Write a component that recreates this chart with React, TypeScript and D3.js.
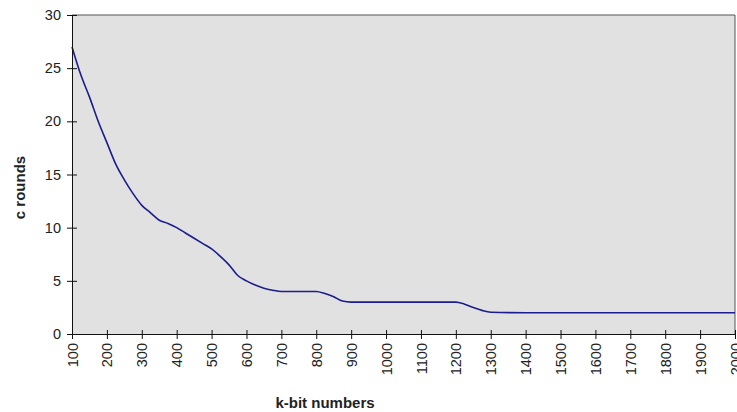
import { axisBottom, axisLeft, curveMonotoneX, line, scaleLinear, select } from 'd3'
import { useEffect, useRef } from 'react'

const kBits = [
  100, 125, 150, 175, 200, 225, 250, 275, 300, 325, 350, 375, 400, 425, 450, 475, 500,
  525, 550, 575, 600, 625, 650, 675, 700, 750, 800, 825, 850, 875, 900, 1000, 1100,
  1200, 1225, 1250, 1275, 1300, 1400, 1500, 1600, 1700, 1800, 1900, 2000,
]
const cRounds = [
  27, 24.4, 22.3, 20, 18, 16, 14.5, 13.2, 12.1, 11.4, 10.7, 10.4, 10, 9.5, 9, 8.5, 8,
  7.3, 6.5, 5.5, 5, 4.6, 4.3, 4.12, 4, 4, 4, 3.8, 3.5, 3.1, 3, 3, 3,
  3, 2.8, 2.5, 2.22, 2.05, 2, 2, 2, 2, 2, 2, 2,
]
const xTickLabels = ['100','200','300','400','500','600','700','800','900','1000','1100','1200','1300','1400','1500','1600','1700','1800','1900','2000']
const yTickLabels = ['0', '5', '10', '15', '20', '25', '30']

const W = 737
const H = 412
const left = 72
const right = 735
const top = 15
const bottom = 334

export default function App() {
  const svgRef = useRef<SVGSVGElement | null>(null)

  useEffect(() => {
    if (!svgRef.current) return
    const svg = select(svgRef.current)
    svg.selectAll('*').remove()

    const x = scaleLinear().domain([100, 2000]).range([left, right])
    const y = scaleLinear().domain([0, 30]).range([bottom, top])

    svg.append('rect')
      .attr('x', left).attr('y', top)
      .attr('width', right - left).attr('height', bottom - top)
      .attr('fill', '#e1e1e1')
    // frame on top / right
    svg.append('path')
      .attr('d', `M${left},${top}H${right}V${bottom}`)
      .attr('fill', 'none')
      .attr('stroke', '#555')
      .attr('stroke-width', 1)

    const pts = kBits.map((k, i) => [k, cRounds[i]] as [number, number])
    svg.append('path')
      .datum(pts)
      .attr('fill', 'none')
      .attr('stroke', '#1c1c8e')
      .attr('stroke-width', 1.6)
      .attr('d', line<[number, number]>().x(d => x(d[0])).y(d => y(d[1])).curve(curveMonotoneX))

    const yAxis = axisLeft(y)
      .tickValues(yTickLabels.map(Number))
      .tickSize(0)
      .tickPadding(11)
    const gy = svg.append('g').attr('transform', `translate(${left},0)`).call(yAxis)
    gy.select('.domain').attr('stroke', '#111')
    gy.selectAll('.tick line').remove()
    gy.selectAll('.tick').append('line').attr('x1', -5).attr('x2', 5).attr('stroke', '#111')
    gy.selectAll('.tick text')
      .attr('font-family', 'Liberation Sans, Arial, sans-serif')
      .attr('font-size', 14.5)
      .attr('fill', '#222')

    const xAxis = axisBottom(x)
      .tickValues(xTickLabels.map(Number))
      .tickSize(0)
      .tickFormat(d => String(d))
    const gx = svg.append('g').attr('transform', `translate(0,${bottom})`).call(xAxis)
    gx.select('.domain').attr('stroke', '#111')
    gx.selectAll('.tick line').remove()
    gx.selectAll('.tick').append('line').attr('y1', -4).attr('y2', 5).attr('stroke', '#111')
    gx.selectAll('.tick text')
      .attr('font-family', 'Liberation Sans, Arial, sans-serif')
      .attr('font-size', 14.5)
      .attr('fill', '#222')
      .attr('text-anchor', 'end')
      .attr('dy', '0.35em')
      .attr('y', 0)
      .attr('transform', 'translate(0,9) rotate(-90)')

    svg.append('text')
      .attr('x', 325).attr('y', 408)
      .attr('text-anchor', 'middle')
      .attr('font-family', 'Liberation Sans, Arial, sans-serif')
      .attr('font-weight', 'bold')
      .attr('font-size', 15)
      .attr('fill', '#222')
      .text('k-bit numbers')

    svg.append('text')
      .attr('transform', `translate(25,${(top + bottom) / 2 + 13}) rotate(-90)`)
      .attr('text-anchor', 'middle')
      .attr('font-family', 'Liberation Sans, Arial, sans-serif')
      .attr('font-weight', 'bold')
      .attr('font-size', 15)
      .attr('fill', '#222')
      .text('c rounds')
  }, [])

  return (
    <svg
      ref={svgRef}
      width={W}
      height={H}
      style={{ position: 'absolute', left: 0, top: 0, background: '#fff' }}
    />
  )
}
